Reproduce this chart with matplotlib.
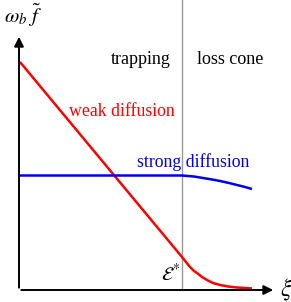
import matplotlib
matplotlib.use('Agg')
import matplotlib.pyplot as plt

plt.rcParams['font.family'] = 'Liberation Serif'
plt.rcParams['mathtext.fontset'] = 'stix'

# energy axis xi (arbitrary units), E* at the trapping / loss cone boundary
e_star = 163
weak_xi = [1, 163, 167, 171, 175, 178, 183, 188, 194, 201, 209, 218, 226, 233]
weak_f = [228, 33, 28, 23, 19, 17, 13, 10, 7, 5, 3.5, 2.5, 2, 1.5]
strong_xi = [0, 163, 175, 184, 193, 201, 210, 218, 226, 233]
strong_f = [114.5, 114.5, 113.5, 112, 110.5, 109, 107, 105, 103, 101]
region_labels = ['trapping', 'loss cone']

fig = plt.figure(figsize=(2.91, 3.02), dpi=100)
ax = fig.add_axes([0, 0, 1, 1])
ax.set_xlim(-19, 272)
ax.set_ylim(-12, 290)
ax.axis('off')

# axes with arrows
ax.annotate('', xy=(257, 0), xytext=(-0.5, 0),
            arrowprops=dict(arrowstyle='-|>', color='black', lw=1.4, mutation_scale=14))
ax.annotate('', xy=(0, 256), xytext=(0, -0.5),
            arrowprops=dict(arrowstyle='-|>', color='black', lw=1.4, mutation_scale=14))

ax.plot([e_star, e_star], [0, 292], color='#999999', lw=1)

ax.plot(weak_xi, weak_f, color='#ff0000', lw=1.8, solid_capstyle='butt')
ax.plot(strong_xi, strong_f, color='#0000ee', lw=1.8, solid_capstyle='butt')

ax.text(122, 231, region_labels[0], ha='center', va='center', fontsize=13)
ax.text(211, 231, region_labels[1], ha='center', va='center', fontsize=13)
ax.text(50, 179, 'weak diffusion', color='#ff0000', ha='left', va='center', fontsize=12.8)
ax.text(118, 128, 'strong diffusion', color='#0000ee', ha='left', va='center', fontsize=12.8)
ax.text(161, 17, r'$\mathcal{E}^{*}$', ha='right', va='center', fontsize=14)
ax.text(267, 0, r'$\xi$', ha='center', va='center', fontsize=17)
ax.text(-15, 275, r'$\omega_b\ \tilde{f}$', ha='left', va='center', fontsize=15)

fig.savefig('out.png', dpi=100)
